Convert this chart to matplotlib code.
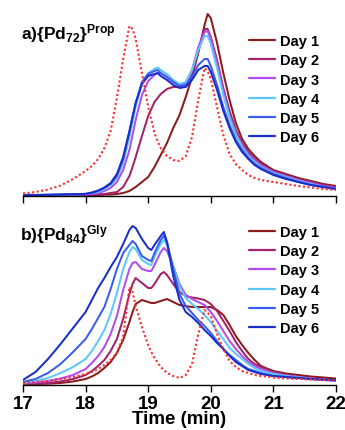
import matplotlib
matplotlib.use("Agg")
import matplotlib.pyplot as plt

plt.rcParams['font.family'] = ['Liberation Sans', 'DejaVu Sans']
plt.rcParams['font.weight'] = 'bold'
plt.rcParams['mathtext.fontset'] = 'custom'
plt.rcParams['mathtext.rm'] = 'Liberation Sans:bold'
plt.rcParams['mathtext.bf'] = 'Liberation Sans:bold'
plt.rcParams['mathtext.it'] = 'Liberation Sans:bold'

# ---------------- data ----------------
labels = ["Day 1", "Day 2", "Day 3", "Day 4", "Day 5", "Day 6"]
colors = ["#8c1c1c", "#a3226a", "#b04cf0", "#5cc8f7", "#3c5cf0", "#1a2ec8"]
ticks = [17, 18, 19, 20, 21, 22]

# Panel a) {Pd72}Prop
time_a = [17.0, 17.2, 17.4, 17.6, 17.8,
          18.0, 18.1, 18.2, 18.3, 18.4, 18.5, 18.6, 18.7, 18.75, 18.8, 18.9,
          19.0, 19.1, 19.15, 19.2, 19.3, 19.4, 19.5, 19.6, 19.7, 19.8, 19.9, 19.95,
          20.0, 20.1, 20.2, 20.3, 20.4, 20.5, 20.6, 20.7, 20.8,
          21.0, 21.2, 21.4, 21.6, 21.8, 22.0]
a_ref = [1.5, 3, 5.5, 9.5, 16,
         24, 29, 36, 47, 64, 97, 136, 169, 166, 156, 122,
         88, 62, 54, 47, 39, 35, 34, 39, 58, 95, 127, 124,
         116, 88, 60, 41, 31, 25, 20, 17, 15,
         13, 11, 9, 7.5, 6, 5]
a_day1 = [0, 0, 0, 0, 0,
          0, 0, 0, 0.3, 0.5, 1, 2, 4, 6, 8, 13,
          18, 28, 34, 40, 52, 67, 80, 98, 118, 142, 170, 181,
          177, 152, 122, 95, 72, 56, 46, 39, 33,
          25, 21, 17, 14, 11, 9]
a_day2 = [0, 0, 0, 0, 0,
          0.3, 0.5, 0.8, 1, 2, 3, 8, 19, 28, 38, 59,
          79, 93, 97, 101, 106, 108, 108, 109, 120, 145, 166, 166,
          158, 135, 107, 84, 65, 52, 43, 36, 31,
          24, 20, 16, 13, 10, 8]
a_day3 = [0, 0, 0, 0.2, 0.3,
          0.5, 1, 2, 4, 7, 13, 25, 45, 60, 75, 100,
          114, 120, 122, 122, 118, 113, 110, 112, 125, 148, 163, 164,
          156, 132, 104, 80, 62, 50, 41, 35, 30,
          23, 19, 15, 12, 9, 7]
a_day4 = [0, 0, 0.2, 0.4, 0.6,
          1, 2, 3, 6, 10, 17, 32, 58, 73, 88, 112,
          122, 126, 127.5, 125, 121, 115, 111, 113, 125, 145, 159, 159,
          151, 127, 100, 77, 60, 48, 39, 33, 28,
          22, 18, 14, 11, 8, 6]
a_day5 = [0, 0, 0.2, 0.4, 0.7,
          1, 2, 4, 7, 11, 19, 36, 63, 78, 92, 113,
          121, 124, 125, 122, 118, 113, 109, 110, 118, 130, 136, 136,
          129, 110, 88, 70, 55, 45, 37, 31, 27,
          21, 17, 13, 10, 8, 6]
a_day6 = [0, 0, 0.2, 0.5, 0.8,
          1.2, 2.5, 4.5, 7.5, 12, 21, 38, 64, 78, 92, 111,
          119, 121, 122, 119, 115, 110, 107, 108, 115, 125, 129, 129,
          123, 105, 84, 67, 53, 43, 36, 30, 26,
          20, 16, 13, 10, 8, 6]

# Panel b) {Pd84}Gly
time_b = [17.0, 17.2, 17.4, 17.6, 17.8,
          18.0, 18.1, 18.2, 18.3, 18.4, 18.5, 18.6, 18.7, 18.75, 18.8, 18.9,
          19.0, 19.05, 19.1, 19.2, 19.25, 19.3, 19.4, 19.5, 19.6, 19.7, 19.8, 19.9,
          20.0, 20.1, 20.2, 20.3, 20.4, 20.5, 20.6, 20.7, 20.8,
          21.0, 21.2, 21.4, 21.6, 21.8, 22.0]
b_ref = [1, 2, 3, 5, 7,
         10, 12, 15, 19, 24, 31, 47, 97, 92, 78, 57,
         39, 32, 26, 17, 14, 11, 8, 6, 9, 20, 50, 74,
         68, 50, 35, 23, 17, 13, 11, 9, 8,
         6.5, 5.5, 5, 4.5, 4, 3.5]
b_day1 = [0, 0, 0.3, 1, 2.5,
          5, 7.5, 11, 16, 22, 31, 44, 62, 72, 80, 84,
          82, 81, 81, 83, 84, 85, 82, 79, 78, 77, 77, 77,
          77, 74, 69, 59, 48, 39, 31, 24, 18,
          13, 10.5, 9, 7.5, 6.5, 5.5]
b_day2 = [0, 0.5, 1, 2.5, 5,
          9, 13, 18, 24, 33, 45, 65, 90, 100, 106, 101,
          96, 96, 100, 110, 112, 109, 100, 92, 88, 86.5, 85.5, 84,
          80, 73, 63, 53, 42, 33, 25, 20, 17,
          12, 9, 7, 5.5, 4.5, 3.5]
b_day3 = [0.5, 1.5, 3, 5.5, 9,
          15, 21, 28, 37, 50, 68, 94, 115, 121, 122, 115,
          113, 113, 119, 132, 136, 133, 118, 100, 89, 85, 82, 79,
          72, 63, 53, 43, 35, 28, 22, 18, 15,
          11, 8.5, 7, 5.5, 4.5, 3.5]
b_day4 = [1, 3, 6, 11, 17,
          25, 33, 43, 54, 70, 91, 115, 132, 137, 135, 124,
          120, 119, 127, 140, 144, 139, 118, 98, 86, 80, 75, 69,
          62, 53, 45, 36, 30, 25, 20, 16, 13,
          10, 8, 6.5, 5, 4, 3.5]
b_day5 = [2, 5, 11, 20, 32,
          45, 55, 66, 77, 95, 115, 131, 139, 143, 140, 128,
          124, 123, 131, 144, 148, 142, 115, 90, 78, 71, 64, 58,
          51, 43, 35, 29, 24, 19, 15, 13, 11,
          8, 7, 6, 5, 4, 3.5]
b_day6 = [4, 12, 25, 40, 56,
          72, 84, 96, 106, 117, 127, 140, 154, 158, 156, 145,
          136, 134, 139, 148, 152, 142, 108, 84, 72, 67, 61, 54,
          48, 41, 35, 28, 22, 18, 14, 12, 10,
          8, 7, 6, 5, 4.5, 4]

# ---------------- figure ----------------
W, H = 345, 431
fig = plt.figure(figsize=(W / 100, H / 100), dpi=100)

def px_axes(left, top, right, bottom):
    return fig.add_axes([left / W, 1 - bottom / H, (right - left) / W, (bottom - top) / H])

axA = px_axes(23, 7, 336, 197)
axB = px_axes(23, 216, 336, 386)

panels = [
    (axA, time_a, a_ref, [a_day1, a_day2, a_day3, a_day4, a_day5, a_day6], 189),
    (axB, time_b, b_ref, [b_day1, b_day2, b_day3, b_day4, b_day5, b_day6], 169),
]

for ax, t, ref, days, ytop in panels:
    ax.plot(t, ref, color="#ff2a2a", lw=1.5, linestyle=(0, (1, 1.2)),
            dash_capstyle='butt', zorder=3)
    for vals, c, lab in zip(days, colors, labels):
        ax.plot(t, vals, color=c, lw=1.45, label=lab, zorder=2,
                solid_joinstyle='round', solid_capstyle='round')
    ax.set_xlim(17, 22)
    ax.set_ylim(-1, ytop)
    for s in ["left", "right", "top"]:
        ax.spines[s].set_visible(False)
    ax.spines["bottom"].set_linewidth(1.0)
    ax.set_yticks([])
    ax.set_xticks(ticks)
    ax.tick_params(axis='x', direction='out', length=5, width=1.0, labelsize=13.5, pad=2)
    ax.patch.set_alpha(0)

axA.tick_params(axis='x', labelbottom=False)
axB.set_xticklabels([str(v) for v in ticks], fontweight='bold')
axB.set_xlabel("Time (min)", fontsize=13.5, fontweight='bold', labelpad=-1)

for ax, top in ((axA, 35), (axB, 226)):
    leg = ax.legend(loc='upper left', bbox_to_anchor=(249 / W, 1 - top / H),
                    bbox_transform=fig.transFigure, frameon=False,
                    prop={'size': 10.5, 'weight': 'bold'}, handlelength=1.8,
                    handletextpad=0.3, labelspacing=0.36, borderpad=0, borderaxespad=0)
    for line in leg.get_lines():
        line.set_linewidth(1.6)

fig.text(21 / W, 1 - 39 / H, r'a)$\{$Pd$_{72}\}^{\mathrm{Prop}}$', fontsize=12.5,
         fontweight='bold', ha='left', va='baseline')
fig.text(20 / W, 1 - 240 / H, r'b)$\{$Pd$_{84}\}^{\mathrm{Gly}}$', fontsize=12.5,
         fontweight='bold', ha='left', va='baseline')

fig.savefig("out.png", dpi=100)
